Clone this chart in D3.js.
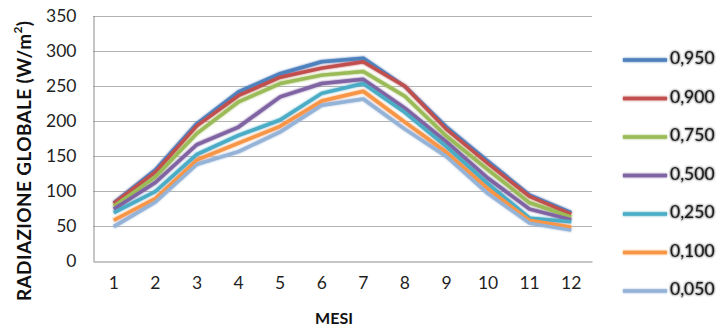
<!DOCTYPE html>
<html>
<head>
<meta charset="utf-8">
<script src="https://cdn.jsdelivr.net/npm/d3@7"></script>
<style>
  body { margin: 0; background: #fff; }
  svg { display: block; font-family: Lato, "Open Sans", sans-serif; }
</style>
</head>
<body>
<div id="chart"></div>
<script>
(function () {

    // months on x axis
    const months = [1, 2, 3, 4, 5, 6, 7, 8, 9, 10, 11, 12]
    const seriesNames = ["0,950", "0,900", "0,750", "0,500", "0,250", "0,100", "0,050"]
    const colors = ["#4F81BD", "#C0504D", "#9BBB59", "#8064A2", "#4BACC6", "#F79646", "#95B3D7"]
    const yTicks = [0, 50, 100, 150, 200, 250, 300, 350]

    // values (W/m2)
    const s0950 = [83, 130, 196, 241, 267, 284, 289, 249, 191, 142, 94, 69]
    const s0900 = [82, 127, 193, 236, 262, 275, 284, 249, 188, 139, 92, 67]
    const s0750 = [78, 120, 182, 227, 253, 265, 270, 235, 178, 130, 83, 63]
    const s0500 = [74, 112, 166, 191, 234, 253, 259, 218, 170, 118, 74, 59]
    const s0250 = [69, 99, 152, 179, 201, 239, 253, 212, 163, 110, 61, 56]
    const s0100 = [58, 89, 144, 168, 192, 228, 242, 198, 155, 103, 58, 48]
    const s0050 = [49, 84, 138, 156, 184, 222, 231, 188, 149, 96, 54, 44]
    const allSeries = [s0950, s0900, s0750, s0500, s0250, s0100, s0050]

    const width = 721, height = 331
    const margin = {top: 15.5, right: 129, bottom: 70, left: 93}

    const svg = d3.select("#chart").append("svg")
        .attr("width", width)
        .attr("height", height)

    const defs = svg.append("defs")
    const glow = defs.append("filter").attr("id", "soft")
        .attr("filterUnits", "userSpaceOnUse")
        .attr("x", 0).attr("y", 0).attr("width", width).attr("height", height)
    glow.append("feGaussianBlur").attr("in", "SourceGraphic").attr("stdDeviation", 0.9).attr("result", "b")
    const merge = glow.append("feMerge")
    merge.append("feMergeNode").attr("in", "b")
    merge.append("feMergeNode").attr("in", "SourceGraphic")

    const x = d3.scaleBand()
        .domain(months)
        .range([margin.left, width - margin.right])
    const y = d3.scaleLinear()
        .domain([0, 350])
        .range([height - margin.bottom, margin.top])

    // gridlines
    svg.append("g")
        .selectAll("line")
        .data(yTicks.filter(d => d > 0))
        .join("line")
        .attr("x1", margin.left)
        .attr("x2", width - margin.right)
        .attr("y1", d => Math.round(y(d)) + 0.5)
        .attr("y2", d => Math.round(y(d)) + 0.5)
        .attr("stroke", "#b3b3b3")
        .attr("stroke-width", 1)

    // y axis
    const yAxis = svg.append("g")
        .attr("transform", `translate(${margin.left + 0.5},0)`)
        .call(d3.axisLeft(y).tickValues(yTicks).tickSize(0).tickPadding(17))
    yAxis.select(".domain").attr("stroke", "#8c8c8c")
    yAxis.selectAll("text")
        .attr("font-size", 17.5)
        .attr("fill", "#1f1f1f")
        .attr("font-family", "Lato, sans-serif")

    // x axis
    const xAxis = svg.append("g")
        .attr("transform", `translate(0,${Math.round(y(0)) + 0.5})`)
        .call(d3.axisBottom(x).tickSize(0).tickPadding(15))
    xAxis.select(".domain").attr("stroke", "#8c8c8c")
    xAxis.selectAll("text")
        .attr("font-size", 17.5)
        .attr("fill", "#1f1f1f")
        .attr("font-family", "Lato, sans-serif")

    // lines
    const line = d3.line()
        .x((d, i) => x(months[i]) + x.bandwidth() / 2)
        .y(d => y(d))

    svg.append("g")
        .attr("filter", "url(#soft)")
        .selectAll("path")
        .data(allSeries)
        .join("path")
        .attr("d", d => line(d))
        .attr("fill", "none")
        .attr("stroke", (d, i) => colors[i])
        .attr("stroke-width", 3.5)
        .attr("stroke-linejoin", "round")

    // axis titles
    svg.append("text")
        .attr("x", 334)
        .attr("y", 320)
        .attr("text-anchor", "middle")
        .attr("dominant-baseline", "middle")
        .attr("font-size", 16)
        .attr("font-weight", "bold")
        .attr("fill", "#111")
        .text("MESI")

    const yTitle = svg.append("text")
        .attr("transform", "translate(26,161) rotate(-90)")
        .attr("text-anchor", "middle")
        .attr("dominant-baseline", "middle")
        .attr("font-size", 19)
        .attr("font-weight", "bold")
        .attr("fill", "#111")
        .attr("textLength", 280)
        .attr("lengthAdjust", "spacing")
    yTitle.append("tspan").text("RADIAZIONE GLOBALE (W/m")
    yTitle.append("tspan").attr("font-size", 12).attr("dy", -7).text("2")
    yTitle.append("tspan").attr("dy", 7).text(")")

    // legend
    const legend = svg.append("g")
        .attr("filter", "url(#soft)")
        .selectAll("g")
        .data(seriesNames)
        .join("g")
        .attr("transform", (d, i) => `translate(623,${60 + i * 38.5})`)
    legend.append("line")
        .attr("x1", 0).attr("x2", 44)
        .attr("stroke", (d, i) => colors[i])
        .attr("stroke-width", 3.5)
    legend.append("text")
        .attr("x", 47)
        .attr("dominant-baseline", "middle")
        .attr("font-size", 17.5)
        .attr("fill", "#1f1f1f")
        .text(d => d)

})()
</script>
</body>
</html>
